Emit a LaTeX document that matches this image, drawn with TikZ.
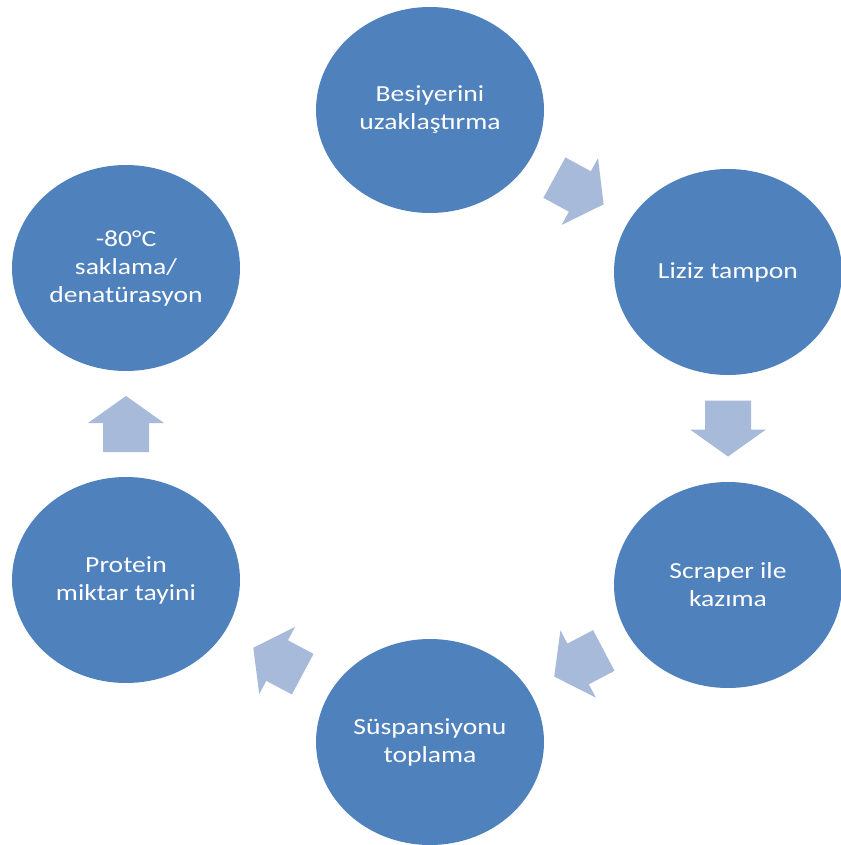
\documentclass[tikz,border=0pt]{standalone}
\usepackage{fontspec}
\setmainfont{Carlito}[FakeStretch=1.2]
\usetikzlibrary{calc,shapes.geometric}
\definecolor{circblue}{HTML}{4F81BD}
\definecolor{arrblue}{HTML}{A7BADA}
\tikzset{
  stepcircle/.style={ellipse, fill=circblue, draw=none, minimum width=228pt,
    minimum height=206pt, inner sep=0pt, text=white, align=center,
    font=\fontsize{23}{28}\selectfont},
  cyclearrowfill/.style={fill=arrblue, draw=none}
}
\newcommand\cyclearrow[2]{%
  \fill[cyclearrowfill] let \p1=($(#2)-(#1)$), \n1={atan2(\y1,\x1)} in
    ($(#1)!0.5!(#2)+(\n1:28pt)$)
    -- ($(#1)!0.5!(#2)+(\n1:1pt)+(\n1+90:38pt)$)
    -- ($(#1)!0.5!(#2)+(\n1:1pt)+(\n1+90:23pt)$)
    -- ($(#1)!0.5!(#2)+(\n1:-28pt)+(\n1+90:23pt)$)
    -- ($(#1)!0.5!(#2)+(\n1:-28pt)+(\n1+90:-23pt)$)
    -- ($(#1)!0.5!(#2)+(\n1:1pt)+(\n1+90:-23pt)$)
    -- ($(#1)!0.5!(#2)+(\n1:1pt)+(\n1+90:-38pt)$)
    -- cycle;}
\begin{document}
\begin{tikzpicture}[x=1pt,y=-1pt]
\useasboundingbox (0,0) rectangle (840,845);
\fill[white] (0,0) rectangle (840,845);
\node[stepcircle] (a) at (430,110) {Besiyerini\\uzaklaştırma};
\node[stepcircle] (b) at (728,272) {Liziz tampon};
\node[stepcircle] (c) at (728,585) {Scraper ile\\kazıma};
\node[stepcircle] (d) at (430,742) {Süspansiyonu\\toplama};
\node[stepcircle] (e) at (126,580) {Protein\\miktar tayini};
\node[stepcircle] (f) at (126,268) {-80°C\\saklama/\\denatürasyon};
\cyclearrow{a}{b}
\cyclearrow{b}{c}
\cyclearrow{c}{d}
\cyclearrow{d}{e}
\cyclearrow{e}{f}
\end{tikzpicture}
\end{document}
